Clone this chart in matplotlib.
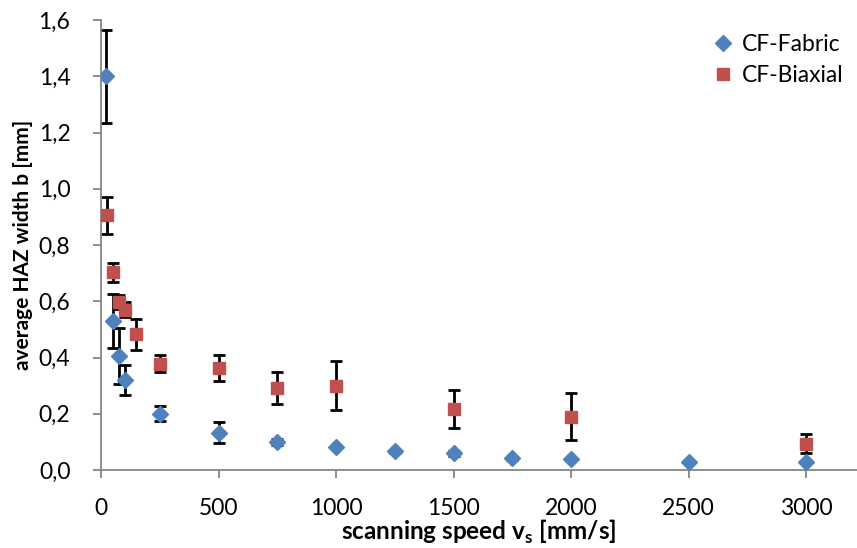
import matplotlib
matplotlib.use("Agg")
import matplotlib.pyplot as plt
from matplotlib.ticker import FuncFormatter

# Data
fabric_x = [20, 50, 75, 100, 250, 500, 750, 1000, 1250, 1500, 1750, 2000, 2500, 3000]
fabric_y = [1.40, 0.53, 0.405, 0.32, 0.20, 0.133, 0.099, 0.083, 0.066, 0.059, 0.042, 0.038, 0.030, 0.027]
fabric_err = [0.165, 0.095, 0.10, 0.055, 0.026, 0.037, 0.010, 0.004, 0.004, 0.008, 0.006, 0.003, 0.003, 0.003]

biax_x = [25, 50, 75, 100, 150, 250, 500, 750, 1000, 1500, 2000, 3000]
biax_y = [0.905, 0.703, 0.598, 0.570, 0.482, 0.378, 0.363, 0.292, 0.300, 0.216, 0.190, 0.093]
biax_err = [0.067, 0.034, 0.025, 0.027, 0.055, 0.031, 0.047, 0.058, 0.086, 0.068, 0.083, 0.034]

x_ticks = [0, 500, 1000, 1500, 2000, 2500, 3000]
y_ticks = [0.0, 0.2, 0.4, 0.6, 0.8, 1.0, 1.2, 1.4, 1.6]

plt.rcParams['font.family'] = ['Lato', 'DejaVu Sans']

W, H = 857, 548
fig = plt.figure(figsize=(W / 100, H / 100), dpi=100)
ax = fig.add_axes([101 / W, (H - 470) / H, (W - 101) / W, (470 - 20) / H])

blue = '#4F81BD'
red = '#C0504D'

ax.errorbar(fabric_x, fabric_y, yerr=fabric_err, fmt='none', ecolor='black',
            elinewidth=2, capsize=4.5, capthick=2, zorder=2)
ax.errorbar(biax_x, biax_y, yerr=biax_err, fmt='none', ecolor='black',
            elinewidth=2, capsize=4.5, capthick=2, zorder=2)
ax.plot(fabric_x, fabric_y, linestyle='none', marker='D', markersize=8.5,
        color=blue, label='CF-Fabric', zorder=3)
ax.plot(biax_x, biax_y, linestyle='none', marker='s', markersize=9,
        color=red, label='CF-Biaxial', zorder=3)

ax.set_xlim(0, 3217)
ax.set_ylim(0, 1.6)
ax.set_xticks(x_ticks)
ax.set_yticks(y_ticks)
ax.yaxis.set_major_formatter(FuncFormatter(lambda v, p: f"{v:.1f}".replace('.', ',')))

for s in ['top', 'right']:
    ax.spines[s].set_visible(False)
for s in ['left', 'bottom']:
    ax.spines[s].set_color('#868686')
    ax.spines[s].set_linewidth(1.3)
    ax.spines[s].set_clip_on(False)
ax.tick_params(axis='both', direction='out', length=6, width=1.3, color='#868686',
               labelsize=16.5, labelcolor='black')
ax.tick_params(axis='y', pad=16)
ax.tick_params(axis='x', pad=14)

ax.set_xlabel('scanning speed v$_\\mathregular{s}$ [mm/s]', fontsize=17.5, fontweight='bold', labelpad=-1)
ax.set_ylabel('average HAZ width b [mm]', fontsize=15, fontweight='bold', labelpad=4)

leg = ax.legend(loc='upper right', bbox_to_anchor=(1.0, 1.0), frameon=False, fontsize=16.5,
                handlelength=0.8, handletextpad=0.4, labelspacing=0.45, borderaxespad=0.2)

fig.savefig('out.png', dpi=100)
